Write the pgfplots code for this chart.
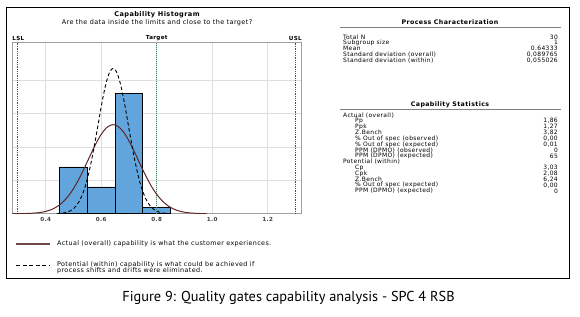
\documentclass[border=0pt]{standalone}
\usepackage{fontspec}
\setmainfont{DejaVu Sans}
\newfontfamily\cf[LetterSpace=6]{DejaVu Sans}
\newfontfamily\capfont{PT Sans}
\usepackage{pgfplots}
\pgfplotsset{compat=1.18}
\definecolor{barblue}{RGB}{97,165,220}
\definecolor{lslred}{RGB}{160,40,40}
\definecolor{tgtgreen}{RGB}{60,135,95}
\definecolor{overall}{RGB}{95,40,40}
\definecolor{legbrown}{RGB}{110,70,70}
\definecolor{gridgray}{RGB}{222,222,222}
\newcommand{\tf}{\cf\fontsize{6}{6}\selectfont}
\newcommand{\lf}{\cf\fontsize{6.4}{6.5}\selectfont}
\begin{document}
\begin{tikzpicture}[x=1bp,y=1bp]
\useasboundingbox (0,0) rectangle (580,316);
\draw[line width=0.9bp] (6,309) rectangle (569,38);
% titles
\node[font=\cf\bfseries\fontsize{6.6}{7}\selectfont, inner sep=0] at (157,301) {Capability Histogram};
\node[font=\cf\fontsize{6.5}{7}\selectfont, inner sep=0] at (157,293.5) {Are the data inside the limits and close to the target?};
\begin{axis}[
  at={(12.3bp,102.3bp)}, anchor=south west,
  scale only axis, width=288.7bp, height=171bp,
  xmin=0.28, xmax=1.32, ymin=0, ymax=25.6,
  axis line style={gray!75, line width=0.8bp},
  xtick={0.4,0.6,0.8,1.0,1.2},
  xticklabel style={font=\cf\bfseries\fontsize{5.6}{6}\selectfont, text=black!75},
  /pgf/number format/assume math mode=true,
  /pgf/number format/.cd, fixed, fixed zerofill, precision=1, /pgfplots/.cd,
  ytick={5,10,15,20}, yticklabels={},
  major tick length=0pt,
  grid=major, major grid style={gridgray, line width=0.6bp},
  clip=true,
]
\addplot[ybar interval, fill=barblue, draw=black, line width=0.6bp] coordinates {
 (0.45,7) (0.55,4) (0.65,18) (0.75,1) (0.85,1)};
\addplot[lslred, densely dotted, line width=0.8bp] coordinates {(0.3,0) (0.3,25.6)};
\addplot[lslred, densely dotted, line width=0.8bp] coordinates {(1.3,0) (1.3,25.6)};
\addplot[tgtgreen, densely dotted, line width=1bp] coordinates {(0.8,0) (0.8,25.6)};
% overall (actual) normal curve
\addplot[overall, line width=1bp, smooth] coordinates {
 (0.28,0.0037) (0.30,0.0089) (0.32,0.0203) (0.34,0.0442) (0.36,0.0915)
 (0.38,0.1803) (0.40,0.3382) (0.42,0.6036) (0.44,1.0252) (0.46,1.6568)
 (0.48,2.547) (0.50,3.727) (0.52,5.188) (0.54,6.874) (0.56,8.666)
 (0.58,10.395) (0.60,11.867) (0.62,12.890) (0.64,13.324) (0.66,13.105)
 (0.68,12.266) (0.70,10.924) (0.72,9.258) (0.74,7.466) (0.76,5.729)
 (0.78,4.184) (0.80,2.907) (0.82,1.922) (0.84,1.209) (0.86,0.724)
 (0.88,0.4125) (0.90,0.2236) (0.92,0.1154) (0.94,0.0566) (0.96,0.0265)
 (0.98,0.0118)};
% within (potential) normal curve
\addplot[black, line width=0.9bp, dash pattern=on 3.5bp off 2.5bp, smooth] coordinates {
 (0.44,0.0236) (0.46,0.0845) (0.48,0.2656) (0.50,0.7313) (0.52,1.7645)
 (0.54,3.730) (0.56,6.909) (0.58,11.216) (0.60,15.952) (0.61,18.104)
 (0.62,19.880) (0.63,21.12) (0.64,21.710) (0.65,21.59) (0.66,20.774)
 (0.67,19.339) (0.68,17.419) (0.69,15.180) (0.70,12.798) (0.72,8.239)
 (0.74,4.648) (0.76,2.297) (0.78,0.995) (0.80,0.3776) (0.82,0.1256)
 (0.84,0.0366)};
\end{axis}
\node[font=\cf\bfseries\fontsize{5.6}{6}\selectfont, inner sep=0, anchor=south] at (18.3,275.5) {LSL};
\node[font=\cf\bfseries\fontsize{5.6}{6}\selectfont, inner sep=0, anchor=south] at (156.7,275.5) {Target};
\node[font=\cf\bfseries\fontsize{5.6}{6}\selectfont, inner sep=0, anchor=south] at (295.3,275.5) {USL};
% legend
\draw[legbrown, line width=1.3bp] (16,72) -- (50,72);
\node[font=\lf, anchor=west, inner sep=0] at (57,72) {Actual (overall) capability is what the customer experiences.};
\draw[black, line width=0.9bp, dash pattern=on 4bp off 2.5bp] (16,51) -- (50,51);
\node[font=\lf, anchor=west, inner sep=0] at (57,51.5) {Potential (within) capability is what could be achieved if};
\node[font=\lf, anchor=west, inner sep=0] at (57,45) {process shifts and drifts were eliminated.};
% right panel: process characterization
\node[font=\cf\bfseries\fontsize{6.3}{7}\selectfont, inner sep=0] at (450,294) {Process Characterization};
\draw[gray, line width=0.6bp] (340,288.5) -- (561,288.5);
\foreach \lab/\val [count=\i from 0] in {Total N/30, Subgroup size/1, Mean/0.64333, Standard deviation (overall)/{0,089765}, Standard deviation (within)/{0,055026}} {
  \node[font=\tf, anchor=west, inner sep=0] at (343,{279-5.8*\i}) {\lab};
  \node[font=\tf, anchor=east, inner sep=0] at (558,{279-5.8*\i}) {\val};
}
% capability statistics
\node[font=\cf\bfseries\fontsize{6.3}{7}\selectfont, inner sep=0] at (450,211.5) {Capability Statistics};
\draw[gray, line width=0.6bp] (340,207) -- (561,207);
\foreach \ind/\lab/\val [count=\i from 0] in {
  0/Actual (overall)/{},
  1/Pp/{1,86},
  1/Ppk/{1,27},
  1/Z.Bench/{3,82},
  1/\% Out of spec (observed)/{0,00},
  1/\% Out of spec (expected)/{0,01},
  1/PPM (DPMO) (observed)/0,
  1/PPM (DPMO) (expected)/65,
  0/Potential (within)/{},
  1/Cp/{3,03},
  1/Cpk/{2,08},
  1/Z.Bench/{6,24},
  1/\% Out of spec (expected)/{0,00},
  1/PPM (DPMO) (expected)/0} {
  \node[font=\tf, anchor=west, inner sep=0] at ({343+12*\ind},{200.8-5.83*\i}) {\lab};
  \node[font=\tf, anchor=east, inner sep=0] at (558,{200.8-5.83*\i}) {\val};
}
% caption
\node[font=\capfont\fontsize{14.4}{16}\selectfont, inner sep=0] at (288.5,18) {Figure 9: Quality gates capability analysis - SPC 4 RSB};
\end{tikzpicture}
\end{document}
